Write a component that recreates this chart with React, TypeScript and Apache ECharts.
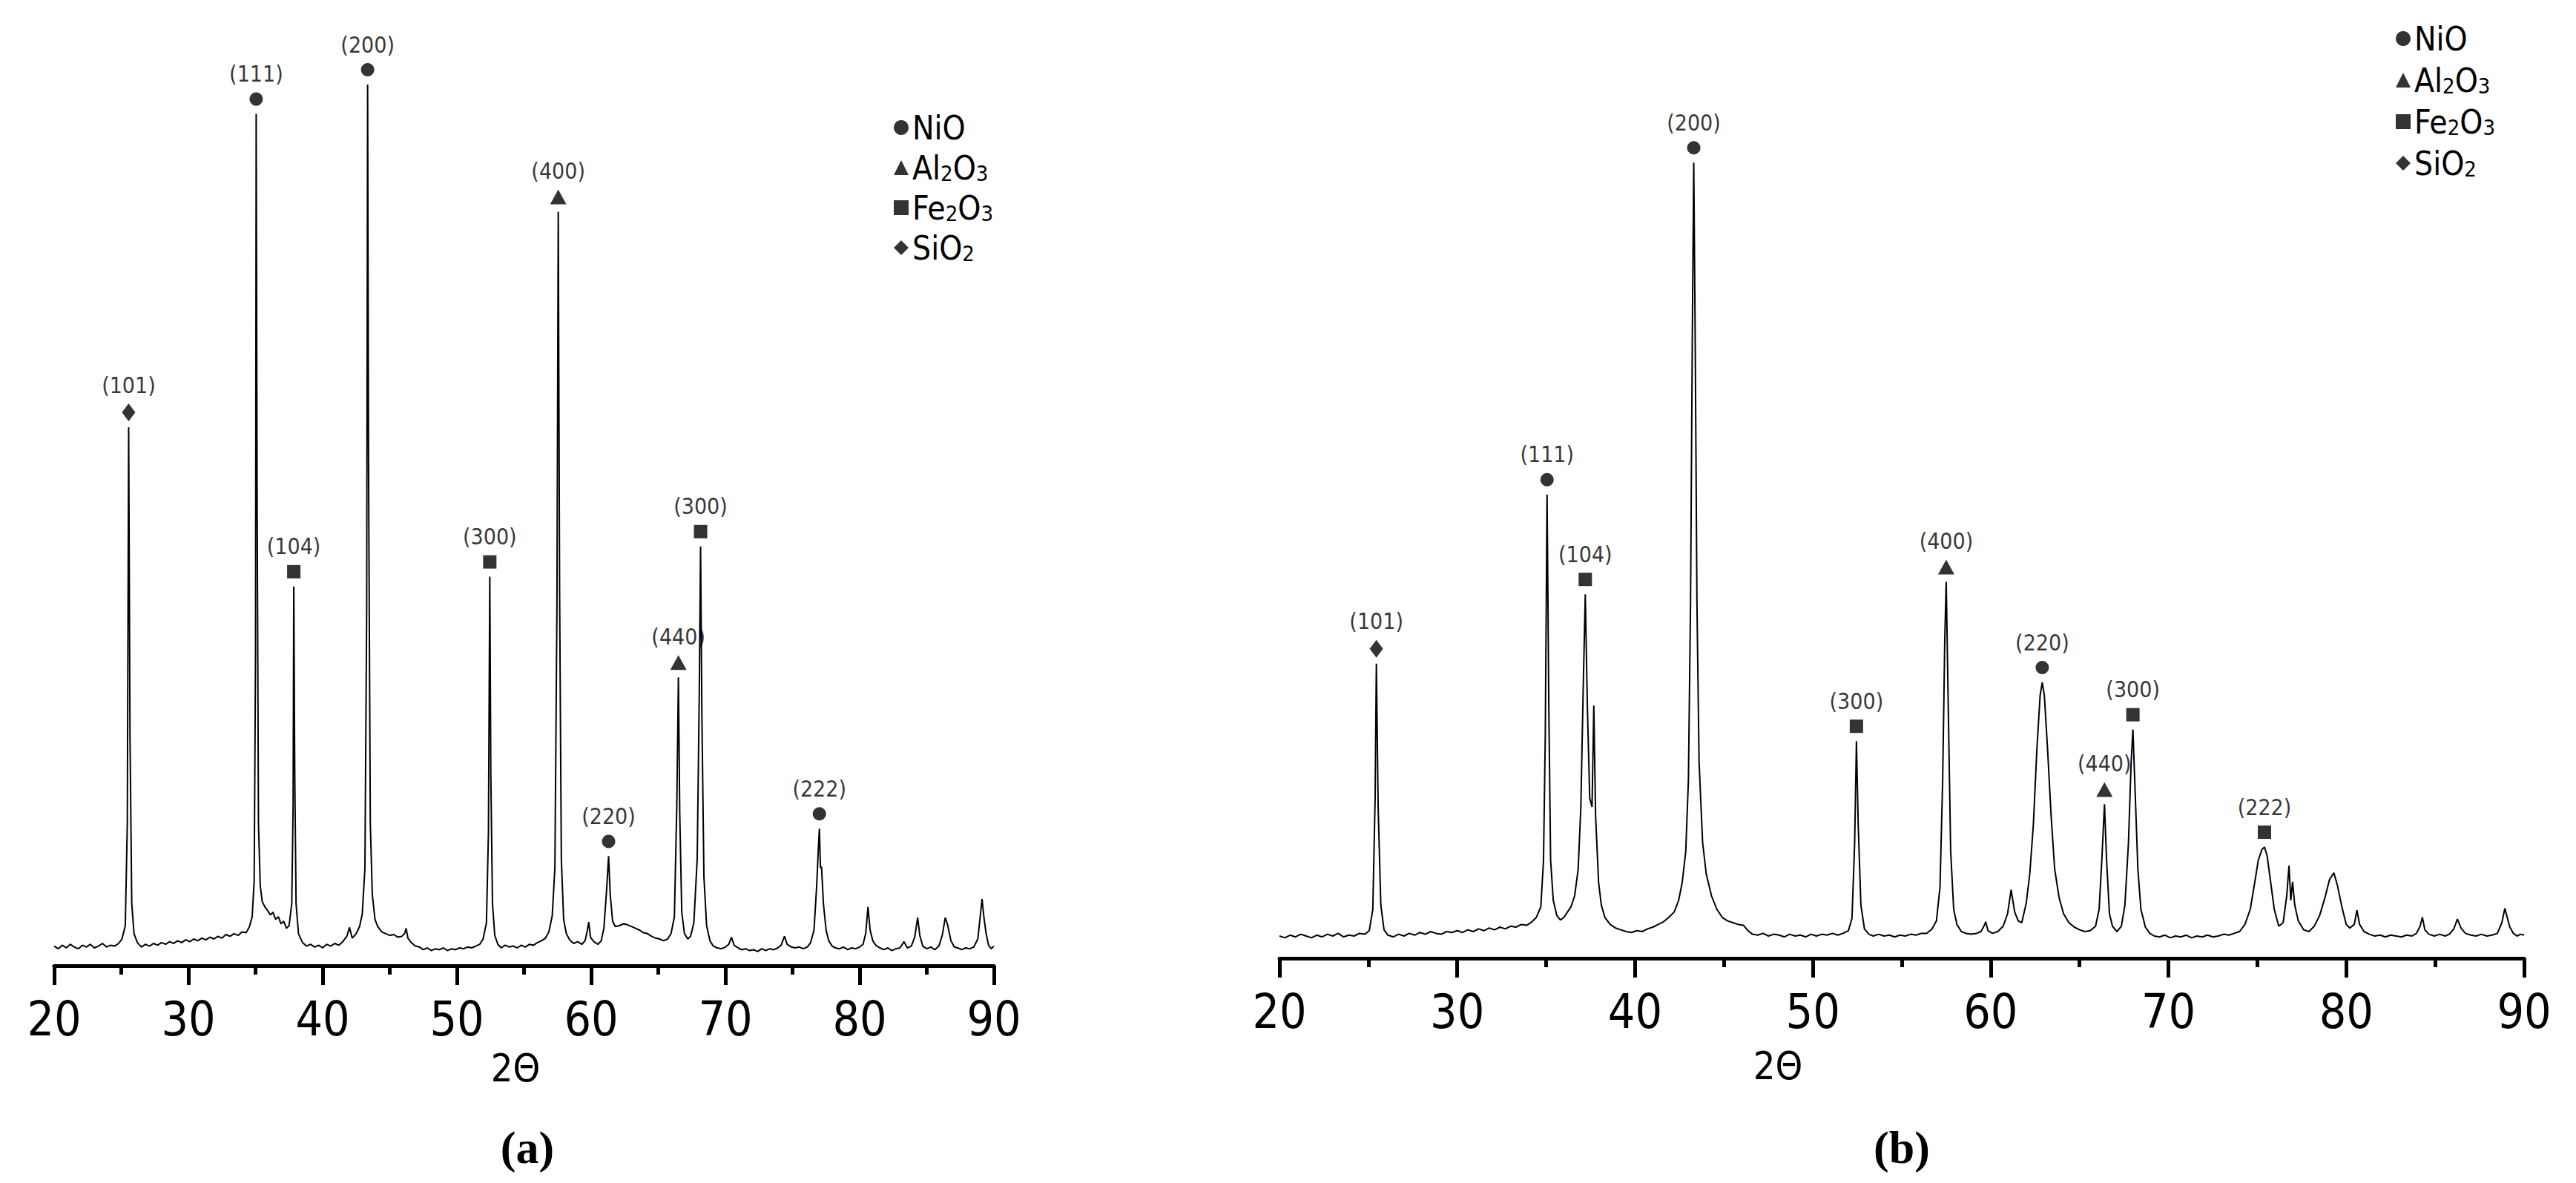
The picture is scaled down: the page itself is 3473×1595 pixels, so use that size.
import React, { useEffect, useRef } from "react";
import * as echarts from "echarts";

const FONT = "'DejaVu Sans Condensed', 'Liberation Sans', sans-serif";

const xTickValues = [20, 30, 40, 50, 60, 70, 80, 90];
const phases = ["NiO", "Al2O3", "Fe2O3", "SiO2"];
const phaseSymbols = ["circle", "triangle", "rect", "diamond"];
const phaseSymbolSizes: any[] = [18, [22, 20], 18, [18, 24]];

// panel (a) diffraction pattern: [2θ, intensity]
const patternA: [number, number][] = [
  [20.0,22],[20.3,19],[20.6,23],[20.9,20],[21.2,24],[21.5,21],[21.8,19],[22.1,23],[22.4,21],[22.7,24],[23.0,20],[23.3,22],[23.6,25],[23.9,21],[24.2,23],[24.5,22],[24.8,25],
  [25.05,30],[25.3,45],[25.45,160],[25.55,605],[25.65,260],[25.78,70],[25.95,36],[26.2,26],[26.5,21],[26.8,24],[27.1,22],[27.4,25],[27.7,23],[28.0,26],[28.3,24],[28.6,27],[28.9,25],
  [29.2,28],[29.5,26],[29.8,29],[30.1,27],[30.4,30],[30.7,28],[31.0,31],[31.3,29],[31.6,32],[31.9,30],[32.2,33],[32.5,31],[32.8,35],[33.1,33],[33.4,36],[33.7,34],[34.0,38],[34.3,37],
  [34.55,44],[34.75,55],[34.9,95],[35.0,350],[35.05,957],[35.12,520],[35.22,160],[35.35,90],[35.5,72],[35.7,66],[35.9,62],[36.1,57],[36.3,60],[36.5,52],[36.7,55],[36.9,47],[37.1,50],
  [37.3,42],[37.5,45],[37.7,70],[37.8,180],[37.85,426],[37.92,220],[38.02,70],[38.2,36],[38.5,26],[38.8,22],[39.1,24],[39.4,21],[39.7,23],[40.0,20],[40.3,24],[40.6,22],[40.9,25],
  [41.2,23],[41.5,27],[41.8,33],[42.0,43],[42.2,31],[42.5,36],[42.75,44],[42.95,58],[43.15,110],[43.28,400],[43.35,990],[43.42,560],[43.55,160],[43.7,80],[43.9,52],[44.1,44],
  [44.4,38],[44.7,36],[45.0,34],[45.3,35],[45.6,32],[45.9,33],[46.1,36],[46.22,42],[46.35,31],[46.6,26],[46.9,22],[47.2,21],[47.5,18],[47.8,20],[48.1,17],[48.4,19],[48.7,18],
  [49.0,20],[49.3,17],[49.6,19],[49.9,18],[50.2,20],[50.5,19],[50.8,21],[51.1,20],[51.4,22],[51.7,24],[51.95,30],[52.2,48],[52.35,150],[52.45,437],[52.53,210],[52.65,70],[52.82,34],
  [53.05,24],[53.3,20],[53.6,23],[53.9,21],[54.2,22],[54.5,20],[54.8,23],[55.1,21],[55.4,24],[55.7,23],[56.0,26],[56.3,28],[56.6,31],[56.85,38],[57.1,56],[57.3,110],[57.45,400],
  [57.55,847],[57.65,420],[57.78,120],[57.95,52],[58.15,36],[58.4,29],[58.7,25],[59.0,27],[59.3,24],[59.55,28],[59.72,40],[59.82,49],[59.95,32],[60.2,27],[60.5,24],[60.75,28],
  [60.95,42],[61.15,85],[61.3,123],[61.42,80],[61.6,50],[61.8,44],[62.1,45],[62.4,47],[62.7,46],[63.0,44],[63.3,42],[63.6,40],[63.9,37],[64.2,36],[64.5,33],[64.8,31],[65.1,30],
  [65.4,28],[65.7,30],[65.95,36],[66.2,55],[66.38,180],[66.5,324],[66.6,170],[66.75,60],[66.95,36],[67.2,30],[67.4,33],[67.65,48],[67.9,120],[68.05,300],[68.15,471],[68.25,280],
  [68.4,100],[68.6,45],[68.85,28],[69.1,22],[69.4,20],[69.7,19],[70.0,21],[70.25,24],[70.45,32],[70.65,23],[70.95,20],[71.2,18],[71.5,19],[71.8,17],[72.1,18],[72.4,16],[72.7,19],
  [73.0,17],[73.3,19],[73.6,18],[73.9,20],[74.15,23],[74.4,33],[74.6,24],[74.9,21],[75.2,20],[75.5,21],[75.8,19],[76.1,21],[76.35,26],[76.6,40],[76.8,90],[76.92,130],[77.0,154],
  [77.08,110],[77.16,111],[77.3,70],[77.5,40],[77.7,28],[77.95,22],[78.2,20],[78.5,19],[78.8,21],[79.1,18],[79.4,20],[79.7,19],[80.0,21],[80.25,24],[80.45,36],[80.62,66],[80.78,40],
  [80.98,28],[81.2,23],[81.5,20],[81.8,18],[82.1,20],[82.4,17],[82.7,19],[83.0,20],[83.3,27],[83.55,20],[83.85,22],[84.1,32],[84.32,54],[84.48,34],[84.7,22],[85.0,19],[85.3,21],
  [85.6,18],[85.9,22],[86.15,34],[86.38,54],[86.55,46],[86.8,28],[87.05,21],[87.3,20],[87.6,18],[87.9,20],[88.2,19],[88.5,21],[88.8,30],[89.0,58],[89.12,75],[89.25,55],[89.42,36],
  [89.6,23],[89.8,19],[90.0,22],
];

// panel (b) diffraction pattern: [2θ, intensity]
const patternB: [number, number][] = [
  [20.0,25],[20.3,23],[20.6,26],[20.9,24],[21.2,27],[21.5,25],[21.8,23],[22.1,26],[22.4,24],[22.7,27],[23.0,25],[23.3,28],[23.6,24],[23.9,26],[24.2,25],[24.5,28],[24.8,27],
  [25.05,31],[25.25,55],[25.38,180],[25.45,331],[25.55,170],[25.7,60],[25.88,32],[26.1,26],[26.4,24],[26.7,27],[27.0,25],[27.3,28],[27.6,26],[27.9,29],[28.2,27],[28.5,30],[28.8,28],
  [29.1,27],[29.4,30],[29.7,29],[30.0,31],[30.3,29],[30.6,32],[30.9,30],[31.2,33],[31.5,31],[31.8,34],[32.1,32],[32.4,35],[32.7,33],[33.0,36],[33.3,35],[33.6,38],[33.9,37],[34.2,41],
  [34.45,46],[34.7,58],[34.85,110],[34.95,250],[35.05,521],[35.15,280],[35.25,110],[35.4,65],[35.6,48],[35.8,43],[36.0,46],[36.2,52],[36.4,58],[36.6,70],[36.8,100],[36.95,170],
  [37.08,300],[37.2,409],[37.32,280],[37.45,180],[37.58,170],[37.68,284],[37.78,160],[37.95,85],[38.1,60],[38.3,46],[38.6,38],[38.9,34],[39.2,32],[39.5,30],[39.8,29],[40.1,31],
  [40.4,30],[40.7,33],[41.0,35],[41.3,38],[41.6,41],[41.9,46],[42.2,52],[42.45,65],[42.65,85],[42.85,120],[43.0,200],[43.12,400],[43.22,700],[43.3,894],[43.38,700],[43.48,400],
  [43.6,220],[43.8,130],[44.0,95],[44.3,70],[44.6,55],[44.9,46],[45.2,42],[45.5,40],[45.8,38],[46.1,37],[46.35,31],[46.6,27],[46.9,26],[47.2,28],[47.5,25],[47.8,27],[48.1,26],
  [48.4,24],[48.7,27],[49.0,25],[49.3,26],[49.6,24],[49.9,27],[50.2,25],[50.5,27],[50.8,26],[51.1,28],[51.4,26],[51.7,28],[52.0,31],[52.2,45],[52.35,130],[52.45,244],[52.55,150],
  [52.7,60],[52.9,33],[53.15,27],[53.4,25],[53.7,27],[54.0,25],[54.3,26],[54.6,24],[54.9,26],[55.2,25],[55.5,27],[55.8,26],[56.1,28],[56.4,28],[56.7,33],[56.95,42],[57.15,80],
  [57.3,200],[57.42,360],[57.5,423],[57.6,300],[57.75,120],[57.92,55],[58.1,38],[58.35,30],[58.6,28],[58.9,27],[59.2,28],[59.45,30],[59.62,36],[59.72,41],[59.85,31],[60.1,28],
  [60.4,30],[60.7,36],[60.95,50],[61.15,77],[61.35,52],[61.55,42],[61.75,40],[62.0,62],[62.2,95],[62.4,150],[62.6,235],[62.78,295],[62.9,310],[63.02,295],[63.2,235],[63.4,160],
  [63.6,100],[63.85,68],[64.1,50],[64.4,40],[64.7,35],[65.0,32],[65.3,30],[65.6,31],[65.9,36],[66.1,55],[66.25,110],[66.4,173],[66.52,110],[66.68,50],[66.85,36],[67.1,30],
  [67.35,36],[67.55,60],[67.75,130],[67.9,220],[68.0,257],[68.12,190],[68.28,100],[68.45,55],[68.7,35],[68.95,28],[69.2,25],[69.5,24],[69.8,26],[70.1,23],[70.4,25],[70.7,24],
  [71.0,26],[71.3,23],[71.6,25],[71.9,24],[72.2,26],[72.5,24],[72.8,25],[73.1,27],[73.4,26],[73.7,28],[74.0,30],[74.3,38],[74.6,55],[74.85,85],[75.05,110],[75.25,122],[75.4,125],
  [75.55,115],[75.75,85],[75.95,55],[76.2,36],[76.45,40],[76.65,70],[76.78,104],[76.88,65],[76.98,86],[77.1,60],[77.3,42],[77.6,32],[77.9,30],[78.2,36],[78.5,48],[78.8,68],
  [79.05,88],[79.3,96],[79.5,82],[79.75,58],[80.0,38],[80.2,34],[80.45,38],[80.6,54],[80.75,38],[81.0,30],[81.3,27],[81.6,25],[81.9,26],[82.2,24],[82.5,26],[82.8,25],[83.1,24],
  [83.4,26],[83.7,25],[83.95,28],[84.15,36],[84.28,46],[84.42,32],[84.65,27],[84.95,25],[85.25,27],[85.55,25],[85.8,27],[86.05,33],[86.25,44],[86.45,34],[86.7,28],[87.0,26],
  [87.3,25],[87.6,27],[87.9,25],[88.2,26],[88.5,28],[88.75,40],[88.92,56],[89.05,46],[89.2,35],[89.4,28],[89.6,25],[89.8,27],[90.0,26],
];

// indexed peaks: [phase index, 2θ, intensity, hkl]
const peaksA: [number, number, number, string][] = [
  [3, 25.55, 605, "(101)"],
  [0, 35.05, 957, "(111)"],
  [2, 37.85, 426, "(104)"],
  [0, 43.35, 990, "(200)"],
  [2, 52.45, 437, "(300)"],
  [1, 57.55, 847, "(400)"],
  [0, 61.3, 123, "(220)"],
  [1, 66.5, 324, "(440)"],
  [2, 68.15, 471, "(300)"],
  [0, 77.0, 154, "(222)"],
];

const peaksB: [number, number, number, string][] = [
  [3, 25.45, 331, "(101)"],
  [0, 35.05, 521, "(111)"],
  [2, 37.2, 409, "(104)"],
  [0, 43.3, 894, "(200)"],
  [2, 52.45, 244, "(300)"],
  [1, 57.5, 423, "(400)"],
  [0, 62.9, 310, "(220)"],
  [1, 66.4, 173, "(440)"],
  [2, 68.0, 257, "(300)"],
  [2, 75.4, 125, "(222)"],
];

const panelLetters = ["(a)", "(b)"];
const axisTitle = "2Θ";

function makeXAxis(gridIndex: number) {
  return {
    gridIndex,
    type: "value",
    min: xTickValues[0],
    max: xTickValues[xTickValues.length - 1],
    interval: 10,
    axisLine: { show: true, onZero: false, lineStyle: { color: "#000", width: 5 } },
    axisTick: { show: true, length: 26, lineStyle: { color: "#000", width: 5 } },
    minorTick: { show: true, splitNumber: 2, length: 12, lineStyle: { color: "#000", width: 5 } },
    splitLine: { show: false },
    minorSplitLine: { show: false },
    axisLabel: { fontSize: 64, color: "#000", margin: 40, fontFamily: FONT },
  };
}

function makePeakSeries(peaks: [number, number, number, string][], panel: number) {
  return phases.map((ph, pi) => ({
    type: "scatter",
    name: ph,
    xAxisIndex: panel,
    yAxisIndex: panel,
    symbol: phaseSymbols[pi],
    symbolSize: phaseSymbolSizes[pi],
    symbolOffset: [0, -20],
    itemStyle: { color: "#000" },
    z: 5,
    label: {
      show: true,
      position: "top",
      distance: 10,
      color: "#000",
      fontSize: 30,
      fontFamily: FONT,
      formatter: (p: any) => p.data.hkl,
    },
    data: peaks
      .filter((pk) => pk[0] === pi)
      .map((pk) => ({ value: [pk[1], pk[2]], hkl: pk[3] })),
  }));
}

const legendFormatter = (name: string) => name.replace(/(\d)/g, "{s|$1}");

function makeLegend(left: number, top: number, gap: number) {
  return {
    show: true,
    orient: "vertical",
    left,
    top,
    itemWidth: 20,
    itemHeight: 20,
    itemGap: gap,
    selectedMode: false,
    data: phases.map((p, i) => ({ name: p, icon: phaseSymbols[i] })),
    formatter: legendFormatter,
    textStyle: {
      fontSize: 44,
      lineHeight: 44,
      color: "#000",
      fontFamily: FONT,
      rich: { s: { fontSize: 29, lineHeight: 30, verticalAlign: "bottom", color: "#000", fontFamily: FONT } },
    },
    itemStyle: { color: "#000" },
  };
}

export default function App() {
  const ref = useRef<HTMLDivElement>(null);
  useEffect(() => {
    if (!ref.current) return;
    const chart = echarts.init(ref.current, undefined, { renderer: "svg" });
    const option: any = {
      animation: false,
      backgroundColor: "#fff",
      textStyle: { fontFamily: FONT },
      grid: [
        { left: 73, top: 102, width: 1267, height: 1200 },
        { left: 1725, top: 92, width: 1678, height: 1200 },
      ],
      xAxis: [makeXAxis(0), makeXAxis(1)],
      yAxis: [0, 1].map((i) => ({ gridIndex: i, type: "value", min: 0, max: 1000, show: false })),
      legend: [makeLegend(1200, 145, 10), makeLegend(3225, 25, 12)],
      series: [
        {
          type: "line",
          name: "pattern a",
          xAxisIndex: 0,
          yAxisIndex: 0,
          data: patternA,
          showSymbol: false,
          lineStyle: { color: "#000", width: 2 },
          z: 3,
        },
        {
          type: "line",
          name: "pattern b",
          xAxisIndex: 1,
          yAxisIndex: 1,
          data: patternB,
          showSymbol: false,
          lineStyle: { color: "#000", width: 2 },
          z: 3,
        },
        ...makePeakSeries(peaksA, 0),
        ...makePeakSeries(peaksB, 1),
      ],
      graphic: [
        { type: "text", x: 695, y: 1440, style: { text: axisTitle, fontSize: 52, fontFamily: FONT, fill: "#000", align: "center", verticalAlign: "middle" } },
        { type: "text", x: 2397, y: 1437, style: { text: axisTitle, fontSize: 52, fontFamily: FONT, fill: "#000", align: "center", verticalAlign: "middle" } },
        { type: "text", x: 711, y: 1547, style: { text: panelLetters[0], fontSize: 62, fontWeight: "bold", fontFamily: "'Liberation Serif', 'Times New Roman', serif", fill: "#000", align: "center", verticalAlign: "middle" } },
        { type: "text", x: 2564, y: 1547, style: { text: panelLetters[1], fontSize: 62, fontWeight: "bold", fontFamily: "'Liberation Serif', 'Times New Roman', serif", fill: "#000", align: "center", verticalAlign: "middle" } },
      ],
    };
    chart.setOption(option);
    return () => chart.dispose();
  }, []);
  return (
    <div
      ref={ref}
      style={{ position: "fixed", left: 0, top: 0, width: 3473, height: 1595, background: "#fff" }}
    />
  );
}
